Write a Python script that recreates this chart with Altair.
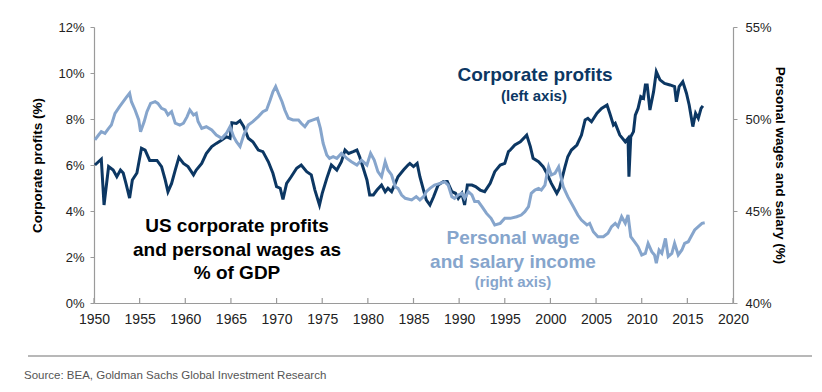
import altair as alt
import pandas as pd

# ---------------- data ----------------
profit_year = [1950.1, 1950.8, 1951.1, 1951.6, 1952.1, 1952.5, 1952.9, 1953.2, 1953.5, 1953.9,
               1954.2, 1954.7, 1955.2, 1955.6, 1956.1, 1956.9, 1957.4, 1957.8, 1958.1, 1958.5,
               1958.9, 1959.3, 1959.8, 1960.3, 1960.9, 1961.2, 1961.8, 1962.3, 1962.9, 1963.4,
               1964.0, 1964.5, 1964.9, 1965.1, 1965.6, 1966.0, 1966.4, 1966.9, 1967.4, 1968.0,
               1968.5, 1969.1, 1969.6, 1970.0, 1970.4, 1970.7, 1971.1, 1971.6, 1972.2, 1972.7,
               1973.3, 1973.8, 1974.2, 1974.7, 1975.0, 1975.5, 1976.0, 1976.6, 1977.1, 1977.5,
               1977.9, 1978.4, 1978.8, 1979.1, 1979.5, 1979.9, 1980.2, 1980.6, 1981.0, 1981.5,
               1981.9, 1982.2, 1982.6, 1983.0, 1983.3, 1983.9, 1984.4, 1984.6, 1985.0, 1985.4,
               1985.7, 1986.1, 1986.4, 1986.8, 1987.2, 1987.7, 1988.3, 1988.7, 1989.2, 1989.6,
               1989.9, 1990.3, 1990.6, 1990.9, 1991.4, 1991.8, 1992.3, 1992.8, 1993.4, 1993.9,
               1994.5, 1995.0, 1995.4, 1995.6, 1996.1, 1996.7, 1997.4, 1997.8, 1998.1, 1998.7,
               1999.2, 1999.6, 2000.1, 2000.7, 2001.0, 2001.6, 2001.9, 2002.3, 2002.9, 2003.4,
               2003.8, 2004.1, 2004.5, 2005.1, 2005.6, 2006.2, 2006.5, 2006.9, 2007.1, 2007.6,
               2008.2, 2008.5, 2008.6, 2008.8, 2009.1, 2009.3, 2009.6, 2009.9, 2010.2, 2010.4,
               2010.6, 2010.9, 2011.3, 2011.6, 2012.0, 2012.5, 2013.1, 2013.6, 2013.8, 2014.1,
               2014.5, 2014.9, 2015.2, 2015.6, 2015.9, 2016.2, 2016.5, 2016.7]
profit_pct = [6.00, 6.25, 4.26, 5.93, 5.78, 5.49, 5.78, 5.65, 5.20, 4.56,
              5.35, 5.65, 6.73, 6.65, 6.20, 6.20, 5.93, 5.35, 4.84, 5.20,
              5.78, 6.33, 6.07, 5.93, 5.57, 5.78, 6.07, 6.50, 6.80, 6.94,
              7.09, 7.23, 7.16, 7.84, 7.81, 7.93, 7.67, 7.16, 7.01, 6.65,
              6.58, 6.14, 5.64, 5.06, 4.99, 4.50, 5.20, 5.49, 5.86, 6.00,
              5.71, 5.57, 4.91, 4.26, 4.77, 5.42, 6.00, 5.78, 6.14, 6.65,
              6.50, 6.58, 6.65, 6.36, 5.86, 5.35, 4.70, 4.70, 4.91, 5.13,
              4.84, 4.99, 4.84, 5.20, 5.49, 5.78, 6.00, 6.07, 5.93, 6.07,
              5.49, 4.91, 4.48, 4.26, 4.62, 5.13, 5.28, 5.28, 4.84, 4.77,
              4.55, 4.77, 4.26, 5.13, 5.13, 5.06, 4.91, 4.84, 5.20, 5.71,
              6.00, 6.07, 6.58, 6.65, 6.87, 7.01, 7.30, 6.80, 6.29, 6.14,
              5.93, 5.64, 5.20, 4.77, 4.99, 5.93, 6.36, 6.65, 6.87, 7.30,
              7.96, 8.03, 7.88, 8.25, 8.46, 8.61, 8.25, 7.74, 7.81, 7.30,
              7.01, 7.16, 5.49, 7.23, 7.45, 8.17, 8.46, 8.97, 8.90, 9.48,
              9.48, 8.39, 9.19, 10.06, 9.70, 9.55, 9.48, 9.41, 8.75, 9.41,
              9.62, 9.12, 8.61, 7.67, 8.25, 8.03, 8.46, 8.57]

wage_year = [1950.1, 1950.5, 1950.8, 1951.2, 1951.6, 1951.9, 1952.3, 1952.8, 1953.2, 1953.6,
             1953.9, 1954.1, 1954.5, 1954.9, 1955.1, 1955.5, 1955.8, 1956.2, 1956.7, 1957.0,
             1957.4, 1957.8, 1958.1, 1958.5, 1958.9, 1959.4, 1959.8, 1960.2, 1960.5, 1960.9,
             1961.2, 1961.4, 1961.8, 1962.3, 1962.9, 1963.4, 1964.0, 1964.5, 1964.9, 1965.3,
             1965.6, 1966.0, 1966.4, 1966.9, 1967.4, 1968.0, 1968.5, 1968.9, 1969.3, 1969.6,
             1969.9, 1970.2, 1970.6, 1970.9, 1971.3, 1971.8, 1972.4, 1972.7, 1973.1, 1973.5,
             1974.0, 1974.5, 1974.8, 1975.1, 1975.5, 1975.8, 1976.2, 1976.6, 1977.1, 1977.7,
             1978.2, 1978.8, 1979.3, 1979.9, 1980.3, 1980.7, 1981.1, 1981.5, 1981.9, 1982.2,
             1982.6, 1983.0, 1983.3, 1983.7, 1984.1, 1984.8, 1985.3, 1985.7, 1986.1, 1986.4,
             1986.8, 1987.3, 1987.9, 1988.4, 1988.8, 1989.2, 1989.5, 1989.9, 1990.3, 1990.6,
             1991.0, 1991.4, 1991.7, 1992.1, 1992.5, 1993.0, 1993.5, 1993.9, 1994.5, 1995.0,
             1995.6, 1996.3, 1996.8, 1997.2, 1997.6, 1997.9, 1998.3, 1998.7, 1999.0, 1999.4,
             1999.6, 1999.8, 2000.1, 2000.5, 2000.9, 2001.1, 2001.4, 2001.9, 2002.5, 2003.0,
             2003.4, 2004.0, 2004.3, 2004.7, 2005.2, 2005.8, 2006.3, 2006.7, 2007.1, 2007.4,
             2007.8, 2008.2, 2008.5, 2008.8, 2009.2, 2009.6, 2010.0, 2010.4, 2010.7, 2011.1,
             2011.4, 2011.6, 2011.9, 2012.2, 2012.6, 2012.9, 2013.3, 2013.6, 2014.0, 2014.4,
             2014.7, 2015.1, 2015.5, 2015.8, 2016.2, 2016.6, 2016.9]
wage_pct = [48.86, 49.13, 49.31, 49.22, 49.49, 49.67, 50.31, 50.67, 50.94, 51.21,
            51.40, 50.94, 50.49, 49.95, 49.31, 49.86, 50.40, 50.85, 50.94, 50.85,
            50.58, 50.49, 50.22, 50.40, 49.77, 49.67, 49.77, 50.13, 50.49, 50.22,
            50.31, 49.86, 49.49, 49.58, 49.40, 49.13, 48.95, 49.22, 49.58, 49.04,
            48.77, 48.50, 49.13, 49.67, 49.86, 50.13, 50.40, 50.49, 51.03, 51.48,
            51.76, 51.40, 50.94, 50.49, 50.04, 49.95, 49.95, 49.77, 49.58, 49.86,
            49.95, 50.04, 49.49, 48.68, 48.04, 47.86, 47.95, 47.86, 48.13, 47.86,
            47.68, 47.50, 47.77, 47.50, 48.13, 47.77, 47.14, 46.86, 47.68, 47.23,
            46.96, 46.32, 46.23, 45.87, 45.69, 45.60, 45.78, 45.60, 45.78, 46.05,
            46.23, 46.41, 46.50, 46.59, 46.41, 45.78, 45.69, 45.87, 45.96, 45.69,
            46.05, 45.87, 45.51, 45.51, 45.24, 44.87, 44.60, 44.24, 44.33, 44.60,
            44.60, 44.69, 44.78, 44.96, 45.24, 45.96, 46.14, 46.23, 46.14, 46.41,
            46.96, 47.40, 46.96, 47.05, 47.40, 46.96, 46.32, 45.78, 45.24, 44.78,
            44.51, 44.24, 44.33, 43.87, 43.60, 43.60, 43.79, 44.15, 44.33, 44.15,
            44.69, 44.33, 44.78, 43.60, 43.33, 43.06, 42.61, 42.70, 43.24, 42.79,
            42.61, 42.16, 42.88, 42.70, 43.51, 42.52, 42.70, 43.24, 42.61, 42.88,
            43.24, 43.33, 43.70, 43.97, 44.15, 44.33, 44.36]

x_ticks = [1950, 1955, 1960, 1965, 1970, 1975, 1980, 1985, 1990, 1995, 2000, 2005, 2010, 2015, 2020]
left_ticks = [0, 2, 4, 6, 8, 10, 12]
right_ticks = [40, 45, 50, 55]

profits = pd.DataFrame({"year": profit_year, "value": profit_pct})
wages = pd.DataFrame({"year": wage_year, "value": wage_pct})
xtick_df = pd.DataFrame({"year": x_ticks})

# ---------------- styling ----------------
W, H = 639, 276
DARK = "#0c3763"
LIGHT = "#86a5cc"
FONT = "Liberation Sans"
AXC = "#9a9a9a"

x_scale = alt.Scale(domain=[1950, 2020], nice=False, zero=False)
x_enc = alt.X(
    "year:Q",
    scale=x_scale,
    axis=alt.Axis(values=x_ticks, format="d", title=None, labelPadding=9, tickSize=0,
                  labelFontSize=14, labelFlush=False, labelOverlap=False, labelFont=FONT),
)

left_line = alt.Chart(profits).mark_line(color=DARK, strokeWidth=3).encode(
    x=x_enc,
    y=alt.Y(
        "value:Q",
        scale=alt.Scale(domain=[0, 12], nice=False),
        axis=alt.Axis(values=left_ticks, labelExpr="datum.value + '%'",
                      title="Corporate profits (%)", titleX=-57, titleY=H / 2,
                      titleAngle=-90, titleAlign="center", titleBaseline="middle",
                      labelPadding=6),
    ),
)

right_line = alt.Chart(wages).mark_line(color=LIGHT, strokeWidth=3).encode(
    x=x_enc,
    y=alt.Y(
        "value:Q",
        scale=alt.Scale(domain=[40, 55], nice=False, zero=False),
        axis=alt.Axis(orient="right", values=right_ticks, labelExpr="datum.value + '%'",
                      title="Personal wages and salary (%)", titleX=46, titleY=H / 2,
                      titleAngle=90, titleAlign="center", titleBaseline="middle",
                      labelPadding=8),
    ),
)

# inward x-axis tick marks (share the x scale and axis definition)
xticks = alt.Chart(xtick_df).mark_rule(color=AXC, strokeWidth=1.2).encode(
    x=x_enc,
    y=alt.value(H - 5), y2=alt.value(H),
)

lines = alt.layer(left_line, right_line).resolve_scale(y="independent")


def label(text, x, y, size, color, weight="bold", align="center"):
    return alt.Chart(pd.DataFrame({"t": [text]})).mark_text(
        text=text, font=FONT, fontSize=size, fontWeight=weight, color=color,
        align=align, baseline="middle",
    ).encode(x=alt.value(x), y=alt.value(y))


notes = [
    label("US corporate profits", 143, 199, 19, "#000000"),
    label("and personal wages as", 143, 223, 19, "#000000"),
    label("% of GDP", 143, 246, 19, "#000000"),
    label("Corporate profits", 441, 48, 19, DARK),
    label("(left axis)", 440, 69, 15, DARK),
    label("Personal wage", 419, 211, 19, LIGHT),
    label("and salary income", 419, 235, 19, LIGHT),
    label("(right axis)", 419, 255, 15, LIGHT),
    label("Source: BEA, Goldman Sachs Global Investment Research", -70, 349, 11.5,
          "#555555", weight="normal", align="left"),
]

sep = alt.Chart(pd.DataFrame({"a": [0]})).mark_rule(color="#a0a0a0", strokeWidth=1.5).encode(
    x=alt.value(-66), x2=alt.value(718), y=alt.value(329)
)

chart = alt.layer(lines, xticks, *notes, sep).resolve_scale(y="independent").properties(
    width=W, height=H,
    autosize=alt.AutoSizeParams(type="none"),
    padding={"left": 86, "top": 19, "right": 81, "bottom": 81},
).configure_view(stroke=None).configure_axis(
    grid=False, domainColor=AXC, tickColor=AXC, tickSize=4, domainWidth=1.2,
    labelColor="#222222", labelFont=FONT, labelFontSize=13,
    titleFont=FONT, titleFontSize=13.5, titleFontWeight="bold", titleColor="#000000",
)

chart.save("out.html", embed_options={"renderer": "svg", "actions": False})
